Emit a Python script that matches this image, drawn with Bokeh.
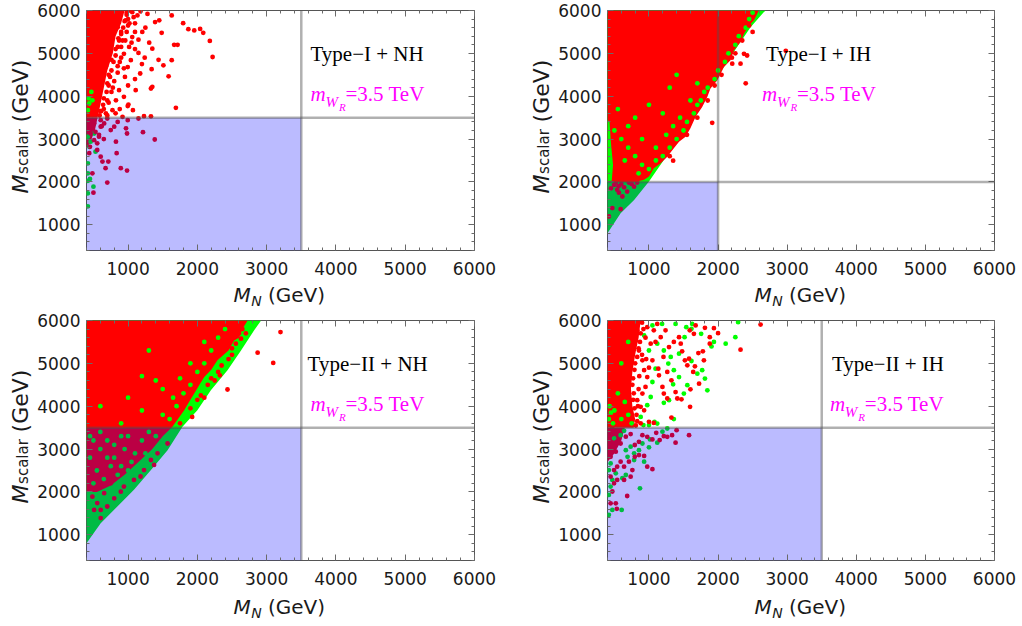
import math
from bokeh.plotting import figure
from bokeh.models import Range1d, FixedTicker, LinearAxis, Label, Span
from bokeh.layouts import column, row
from bokeh.core.properties import value
from bokeh.embed import file_html
from bokeh.resources import INLINE

# ---------------- data ----------------
X_RANGE = (400, 6000)
Y_RANGE = (400, 6000)
MAJOR_TICKS = [1000, 2000, 3000, 4000, 5000, 6000]
MINOR_TICKS = [400, 600, 800, 1200, 1400, 1600, 1800, 2200, 2400, 2600, 2800,
               3200, 3400, 3600, 3800, 4200, 4400, 4600, 4800, 5200, 5400, 5600, 5800]

PANEL_TITLES = ["Type\u2212I + NH", "Type\u2212I + IH", "Type\u2212II + NH", "Type\u2212II + IH"]
THRESHOLDS = [3500, 2000, 3500, 3500]   # blue excluded box / gray lines (GeV)
MWR_TEXT = "=3.5 TeV"

# ---- Panel 1 : Type-I + NH ----
p1_core_x = [400, 950, 900, 820, 780, 700, 650, 600, 560, 400]
p1_core_y = [6000, 6000, 5700, 5400, 5000, 4600, 4200, 3800, 3500, 3500]
p1_core2_x = [400, 560, 520, 450, 400]
p1_core2_y = [3500, 3500, 3200, 2900, 2800]
p1_red_x = [2220, 2180, 2085, 2040, 1955, 1870, 1795, 1630, 1715, 1665, 1630, 1585, 1510, 1440, 1485,
            1450, 1280, 1390, 1350, 1305, 1340, 1350, 1330, 1110, 1175, 1150, 1150, 1205, 1080, 1690,
            1330, 1230, 1005, 1070, 995, 920, 775, 825, 940, 870, 955, 995, 940, 1040, 1015,
            1060, 920, 850, 965, 890, 1060, 1135,
            700, 760, 800, 720, 850, 880, 760, 820, 900, 860, 980, 1000, 1100, 1030, 1180, 980,
            650, 700, 820, 880, 600, 720, 680, 760, 800, 900, 1100, 1200, 1250, 1100, 1000, 1240,
            980, 1000, 950, 930, 900, 870, 850, 820, 790, 760, 740, 700, 690, 650, 640, 610, 590,
            1020, 960, 900, 850, 780, 720, 680, 1100, 1050, 940,
            1385, 1215, 985, 970, 995, 850, 800, 825, 835, 715, 630, 605, 675, 895, 985, 700, 500,
            485, 555, 580, 530, 655, 700, 605, 510, 450, 440, 555, 460, 510, 485, 605, 750, 1150,
            620, 580, 650]
p1_red_y = [4915, 5290, 5480, 5570, 5535, 5565, 5705, 5885, 5200, 5200, 4840, 4465, 4720, 4850, 5480,
            5770, 5920, 5730, 5110, 5250, 4630, 4220, 4180, 4140, 4530, 5010, 5320, 5500, 5845, 3730,
            3530, 3535, 3805, 3675, 3770, 3520, 3675, 3905, 3985, 4140, 4450, 4680, 4990, 4840, 5150,
            5380, 5300, 5610, 5770, 5920, 5960, 5885,
            3900, 4100, 4350, 4500, 4550, 4800, 4850, 5100, 5150, 5350, 5500, 5650, 5700, 6000, 5980, 5950,
            3700, 3550, 3600, 3700, 3650, 4250, 4700, 5250, 5800, 5450, 5100, 4750, 5600, 4400, 4250, 4900,
            5900, 5800, 5750, 5600, 5500, 5300, 5150, 4950, 4800, 4600, 4450, 4300, 4100, 3950, 3800, 3650, 3550,
            5700, 5300, 4900, 4700, 4200, 3850, 3600, 5500, 5250, 4650,
            2990, 3160, 3130, 3250, 3440, 3400, 3290, 2940, 2670, 2475, 2475, 2590, 2320, 2320, 2265, 1985, 1750,
            2200, 2900, 3055, 3170, 3365, 3480, 3290, 3365, 2820, 2670, 2745, 3130, 2975, 3440, 3440, 3210, 3480,
            3300, 3100, 3000]
p1_green_x = [420, 450, 500, 420, 440, 460, 420, 510, 485, 440, 420, 530, 420, 420, 420, 430, 470]
p1_green_y = [2025, 2070, 1890, 1735, 2820, 2940, 3055, 3130, 3905, 3830, 3675, 2705, 2435, 2200, 1430, 3950, 4100]

# ---- Panel 2 : Type-I + IH ----
p2_green_area_x = [400, 400, 590, 785, 1000, 1215, 1410, 1600, 1795, 1940, 2085, 2275, 2470, 2660, 2690]
p2_green_area_y = [6000, 800, 1270, 1580, 2010, 2510, 2975, 3440, 3985, 4370, 4680, 5150, 5610, 5960, 6000]
p2_red_area_x = [400, 2590, 2520, 2445, 2375, 2325, 2230, 2180, 2085, 1990, 1890, 1845, 1770, 1675, 1600,
                 1530, 1435, 1360, 1265, 1170, 1070, 1000, 930, 800, 400]
p2_red_area_y = [6000, 6000, 5770, 5650, 5460, 5265, 5070, 4840, 4680, 4370, 4180, 3985, 3750, 3520, 3250,
                 3055, 2940, 2785, 2590, 2435, 2320, 2125, 2050, 2000, 2000]
p2_strip_x = [400, 460, 480, 450, 430, 400]
p2_strip_y = [2000, 2000, 2400, 2900, 3400, 3450]
p2_green_x = [1200, 1100, 1000, 1300, 1400, 1500, 1550, 1650, 1700, 1750, 1800, 1850, 1950, 2000, 2100,
              2150, 2250, 2300, 2400, 2450, 2500, 900, 800, 700, 600, 500, 650, 850, 1100, 1250,
              1350, 1450, 1600, 1700, 900, 700, 550, 1000, 1200, 800, 1400, 1300]
p2_green_y = [2600, 2500, 2300, 2800, 3000, 3200, 3400, 3600, 3800, 3900, 4100, 4200, 4400, 4600, 4800,
              5000, 5200, 5400, 5600, 5800, 5950, 2400, 2600, 2800, 3000, 3200, 2500, 2200, 2800, 3100,
              3300, 3500, 3900, 4300, 3000, 3300, 3700, 3800, 3600, 3500, 4500, 4200]
p2_red_x = [2400, 2420, 2375, 2325, 2205, 1915, 1350, 2980, 2500, 2250, 2050, 2200, 2350, 1850, 1700,
            1550, 1300, 2450, 1950,
            495, 540, 565, 615, 470, 590, 640, 710, 785, 830, 685, 520, 420, 600, 750, 450, 560]
p2_red_y = [4300, 4950, 4990, 4760, 4760, 3380, 2495, 5060, 5500, 5000, 4500, 4900, 5300, 3900, 3500,
            3100, 2600, 5650, 4250,
            1930, 1815, 1750, 1660, 1390, 1365, 1875, 1985, 1890, 1985, 1775, 1985, 1195, 1950, 1950, 1850, 1900]

# ---- Panel 3 : Type-II + NH ----
p3_green_area_x = [400, 400, 605, 845, 1085, 1330, 1570, 1785, 2000, 2195, 2435, 2630, 2820, 2920]
p3_green_area_y = [6000, 800, 1270, 1660, 2050, 2510, 2975, 3520, 3905, 4370, 4840, 5300, 5770, 6000]
p3_red_area_x = [400, 2725, 2650, 2600, 2530, 2450, 2380, 2290, 2200, 2100, 2030, 1955, 1880, 1810, 1720,
                 1640, 1500, 1350, 1150, 950, 750, 550, 400]
p3_red_area_y = [6000, 6000, 5800, 5600, 5535, 5300, 5200, 5070, 4850, 4680, 4500, 4295, 4100, 3905, 3700,
                 3520, 3300, 3000, 2700, 2400, 2150, 2000, 2000]
p3_green_x = [500, 600, 700, 800, 900, 1000, 1100, 1200, 1300, 550, 650, 750, 850, 950, 1050, 450, 600,
              700, 1150, 1400, 500, 800, 1000, 1250, 900, 450,
              1600, 1700, 1800, 1900, 2000, 2100, 2200, 2300, 2400, 1500, 1650, 1200, 1400, 900, 1500,
              1750, 1900, 2100, 1300, 1000, 600, 1200]
p3_green_y = [3200, 3000, 2800, 3100, 2600, 3300, 2900, 3200, 3400, 2500, 2300, 2600, 2400, 3000, 2700,
              2800, 3400, 3200, 2500, 3300, 2200, 2800, 2500, 2900, 3300, 3300,
              3700, 4000, 4300, 4500, 4800, 5000, 5300, 5600, 5800, 3800, 4200, 4700, 4600, 3600, 4400,
              4650, 5000, 5500, 5300, 4200, 4000, 3900]
p3_red_x = [3200, 2870, 3095, 2435, 2325, 2630, 2555, 1925, 2700, 2500, 2250, 2100,
            2050, 2200, 2350, 2500, 2650, 2150, 1900, 1750, 2450, 2600, 2300, 2000,
            750, 655, 605, 605, 510, 800, 895, 1085, 1230, 1425, 1330, 1570, 485, 555, 700, 940, 1180, 1375]
p3_red_y = [5730, 5250, 5010, 4390, 4720, 5575, 5460, 3750, 5700, 5200, 4600, 4200,
            4250, 4650, 4950, 5350, 5800, 4500, 3950, 3600, 5100, 5700, 4800, 4150,
            2200, 1970, 1580, 1390, 1580, 1850, 2005, 2280, 2510, 2900, 2745, 3130, 1890, 1740, 1660, 2125, 2360, 2630]

# ---- Panel 4 : Type-II + IH ----
p4_core_x = [400, 880, 850, 800, 760, 740, 760, 800, 780, 400]
p4_core_y = [6000, 6000, 5600, 5200, 4800, 4400, 4000, 3700, 3500, 3500]
p4_core2_x = [400, 650, 600, 500, 400]
p4_core2_y = [3500, 3500, 3200, 2900, 2700]
p4_green_x = [2290, 2250, 2110, 1940, 1905, 1755, 1625, 1615, 1540, 1515, 1615, 1770, 1845, 1810, 1700,
              1555, 1435, 1350, 1360, 1280, 1215, 1120, 1190, 1385, 1435, 1315, 1505, 1290, 1215, 1360,
              1080, 1120, 1000, 920, 880, 975, 1025, 1050, 1095, 1000, 930, 1050, 420, 450, 430, 480,
              1195, 1265, 1015, 1120, 1000, 905, 855, 785, 690, 665, 665, 615, 520, 470, 445, 420, 470,
              420, 605, 870, 785, 930, 735, 590, 495, 445, 420, 640,
              600, 700, 650, 550, 500, 750, 600, 700]
p4_green_y = [5960, 5610, 5460, 5500, 5395, 5690, 5920, 5805, 5845, 5610, 5055, 4840, 4370, 4645, 4760,
              4490, 4680, 4510, 4840, 4995, 5300, 5460, 5920, 5920, 5225, 5150, 4295, 4140, 4080, 3700,
              3635, 3595, 3560, 3560, 3750, 4025, 4215, 4565, 4875, 5300, 5650, 5885, 3700, 3850, 4000, 3600,
              3405, 3480, 3225, 3150, 3040, 3130, 2975, 2900, 2820, 2975, 2395, 2320, 2435, 2280, 2125, 1930, 1580,
              1465, 1580, 2085, 2745, 2705, 3055, 3325, 3250, 2665, 2510, 3425,
              3700, 3800, 4100, 4300, 3900, 3600, 5000, 5500]
p4_red_x = [2615, 2325, 2000, 1940, 1880, 1880, 1810, 1780, 1715, 1675, 1650, 1640, 1590, 1580, 1555,
            1520, 1480, 1460, 1595, 1470, 1410, 1385, 1325, 1265, 1145, 1135, 1050, 1210, 1290, 1360,
            1435, 1025, 1070, 1120, 1170, 1325, 1070, 1000, 1600, 1665, 1725, 1795, 1265, 1215, 1195,
            930, 880, 830, 905, 950, 975, 930, 905, 855, 810, 830, 975, 1095, 1240,
            900, 920, 880, 870, 850, 830, 800, 790, 770, 760, 780, 770, 790, 820, 830, 810, 950, 900,
            860, 850, 840, 880, 960, 1000,
            1580, 1400, 1335, 1385, 1265, 1215, 1155, 1105, 1050, 975, 905, 855, 795, 735, 665, 590,
            930, 855, 795, 710, 640, 590, 540, 495, 445, 470, 445, 520, 535, 685, 975, 1050, 760, 640,
            540, 495, 735, 445, 520, 445, 535, 445, 540, 470]
p4_red_y = [5905, 5320, 5705, 5820, 5610, 5460, 5830, 5280, 5240, 5885, 5690, 4800, 5770, 5110, 4955,
            5070, 5280, 5460, 3985, 4160, 4180, 4330, 4605, 4800, 4720, 4875, 5070, 5150, 5380, 5500,
            5610, 5460, 5770, 5920, 5610, 3735, 3610, 3635, 4395, 4930, 4525, 5070, 4180, 4295, 4450,
            3905, 3985, 4140, 4295, 4450, 4680, 4840, 5070, 5300, 5535, 5770, 5845, 5500, 5770,
            5950, 5800, 5700, 5500, 5350, 5150, 5000, 4850, 4650, 4500, 4300, 4150, 3950, 3800, 3650, 3550, 5600, 5200,
            4700, 4400, 4000, 3600, 5100, 4900,
            3325, 3440, 3325, 3150, 3285, 3300, 3210, 3380, 3225, 3285, 3325, 3170, 3095, 3350, 3290, 3130,
            2840, 2860, 2820, 2705, 2590, 2705, 2590, 2510, 2355, 2010, 1735, 1735, 1605, 1905, 2590, 2530, 2510, 2280,
            2280, 2200, 2355, 2820, 2940, 3055, 3170, 3325, 3440, 3480]

# ---------------- styling / layout ----------------
RED = "#ff0000"
GREEN = "#00ff00"
BLUE = "#0000ff"
MAGENTA = "#ff00ff"
INK = "#1a1a1a"
FW, FH = 388, 240
BT, BB = 10, 32
MAIN_H = BT + FH + BB          # 282
YLAB_W = 34
AX_FONT = "DejaVu Sans"
SERIF = "Liberation Serif"
DOT = 4.8
DPX = (X_RANGE[1] - X_RANGE[0]) / FW
DPY = (Y_RANGE[1] - Y_RANGE[0]) / FH


def style_axis(ax, show_labels=True):
    ax.ticker = FixedTicker(ticks=MAJOR_TICKS, minor_ticks=MINOR_TICKS)
    ax.axis_line_color = None
    ax.major_tick_in = 6
    ax.major_tick_out = 0
    ax.minor_tick_in = 3
    ax.minor_tick_out = 0
    ax.major_tick_line_color = "#6a6a6a"
    ax.minor_tick_line_color = "#6a6a6a"
    if show_labels:
        ax.major_label_text_font = AX_FONT
        ax.major_label_text_font_size = "17px"
        ax.major_label_text_color = INK
    else:
        ax.major_label_text_font_size = "0px"
        ax.major_label_text_color = None
        ax.major_label_standoff = 0


def lab(text, x, y, font, size, color, style="normal"):
    # vertically centred labels (y = middle of the text box)
    return Label(x=x, y=y, text=text, text_font=font, text_font_size=size, text_color=color,
                 text_font_style=style, text_align="left", text_baseline="middle")


def make_panel(idx, bl, br, patches, greens, reds, type_x, mag_x):
    thr = THRESHOLDS[idx]
    p = figure(width=bl + FW + br, height=MAIN_H,
               x_range=Range1d(*X_RANGE), y_range=Range1d(*Y_RANGE),
               output_backend="svg", toolbar_location=None,
               min_border_left=bl, min_border_right=br, min_border_top=BT, min_border_bottom=BB)
    p.xgrid.visible = False
    p.ygrid.visible = False
    p.outline_line_color = "#555555"
    p.outline_line_width = 1
    p.background_fill_color = "white"
    p.border_fill_color = "white"

    style_axis(p.xaxis[0])
    style_axis(p.yaxis[0])
    p.xaxis[0].major_label_standoff = 11
    p.yaxis[0].major_label_standoff = 6
    ra = LinearAxis()
    style_axis(ra, False)
    p.add_layout(ra, "right")
    ta = LinearAxis()
    style_axis(ta, False)
    p.add_layout(ta, "above")

    for (xs, ys, col) in patches:
        p.patch(xs, ys, fill_color=col, line_color=None)
    for (xs, ys) in greens:
        p.scatter(xs, ys, size=DOT, fill_color=GREEN, line_color=None, marker="circle")
    for (xs, ys) in reds:
        p.scatter(xs, ys, size=DOT, fill_color=RED, line_color=None, marker="circle")

    # excluded (blue) region drawn over the points
    p.quad(left=[X_RANGE[0]], right=[thr], bottom=[Y_RANGE[0]], top=[thr],
           fill_color=BLUE, fill_alpha=0.265, line_color=None)
    for dim in ("height", "width"):
        p.add_layout(Span(location=thr, dimension=dim, line_color="#505050",
                          line_alpha=0.45, line_width=2.5))

    # panel annotations (y given as text-box centre, in data units)
    top = Y_RANGE[1]
    p.add_layout(lab(PANEL_TITLES[idx], type_x, top - 43 * DPY, SERIF, "21px", "black"))
    p.add_layout(lab("m", mag_x, top - 83 * DPY, SERIF, "21px", MAGENTA, "italic"))
    p.add_layout(lab("W", mag_x + 15 * DPX, top - 91 * DPY, SERIF, "15px", MAGENTA, "italic"))
    p.add_layout(lab("R", mag_x + 28.5 * DPX, top - 96.5 * DPY, SERIF, "11px", MAGENTA, "italic"))
    p.add_layout(lab(MWR_TEXT, mag_x + 35 * DPX, top - 83 * DPY, SERIF, "21px", MAGENTA))
    return p


def txt(p, x, y, s, size, style="normal", angle=0.0, align="left"):
    p.text(x=[x], y=[y], text=[s], angle=angle, text_font=value(AX_FONT),
           text_font_size=value(size), text_font_style=value(style), text_color=INK,
           text_align=value(align), text_baseline=value("middle"))


def blank(w, h, yr, bt=0, bb=0):
    p = figure(width=w, height=h, x_range=Range1d(0, w), y_range=Range1d(*yr),
               x_axis_type=None, y_axis_type=None, output_backend="svg", toolbar_location=None,
               min_border_left=0, min_border_right=0, min_border_top=bt, min_border_bottom=bb)
    p.outline_line_color = None
    p.background_fill_color = "white"
    p.border_fill_color = "white"
    return p


def ylabel_fig():
    # rotated label "M_scalar (GeV)"; its frame coincides with the panel frame
    # (y = pixels above the frame bottom), pieces centred along the reading direction
    p = blank(YLAB_W, MAIN_H, (0, FH), BT, BB)
    a = math.pi / 2
    txt(p, 19.5, 66.5, "M", "22px", "italic", a, "center")
    txt(p, 22.5, 99.0, "scalar", "15px", "normal", a, "center")
    txt(p, 19.5, 159.5, "(GeV)", "22px", "normal", a, "center")
    return p


def xlabel_fig(w, h):
    p = blank(w, h, (0, h))
    x0 = 233
    txt(p, x0, 16, "M", "20px", "italic")
    txt(p, x0 + 17.8, 10, "N", "14px", "italic")
    txt(p, x0 + 34.5, 16, "(GeV)", "20px", "normal")
    return p


LEFT_W = 521
RIGHT_W = 497
BL1 = 86 - YLAB_W
BL2 = 606 - LEFT_W - YLAB_W
p1 = make_panel(0, BL1, LEFT_W - YLAB_W - BL1 - FW,
                [(p1_core_x, p1_core_y, RED), (p1_core2_x, p1_core2_y, RED)],
                [(p1_green_x, p1_green_y)], [(p1_red_x, p1_red_y)], 3633, 3633)
p2 = make_panel(1, BL2, RIGHT_W - YLAB_W - BL2 - FW,
                [(p2_green_area_x, p2_green_area_y, GREEN), (p2_red_area_x, p2_red_area_y, RED),
                 (p2_strip_x, p2_strip_y, GREEN)],
                [(p2_green_x, p2_green_y)], [(p2_red_x, p2_red_y)], 2695, 2637)
p3 = make_panel(2, BL1, LEFT_W - YLAB_W - BL1 - FW,
                [(p3_green_area_x, p3_green_area_y, GREEN), (p3_red_area_x, p3_red_area_y, RED)],
                [(p3_green_x, p3_green_y)], [(p3_red_x, p3_red_y)], 3590, 3633)
p4 = make_panel(3, BL2, RIGHT_W - YLAB_W - BL2 - FW,
                [(p4_core_x, p4_core_y, RED), (p4_core2_x, p4_core2_y, RED)],
                [(p4_green_x, p4_green_y)], [(p4_red_x, p4_red_y)], 3647, 3618)

layout = column(
    row(ylabel_fig(), p1, ylabel_fig(), p2, spacing=0),
    row(xlabel_fig(LEFT_W, 28), xlabel_fig(RIGHT_W, 28), spacing=0),
    row(ylabel_fig(), p3, ylabel_fig(), p4, spacing=0),
    row(xlabel_fig(LEFT_W, 30), xlabel_fig(RIGHT_W, 30), spacing=0),
    spacing=0)
open("out.html", "w").write(file_html(layout, INLINE))
